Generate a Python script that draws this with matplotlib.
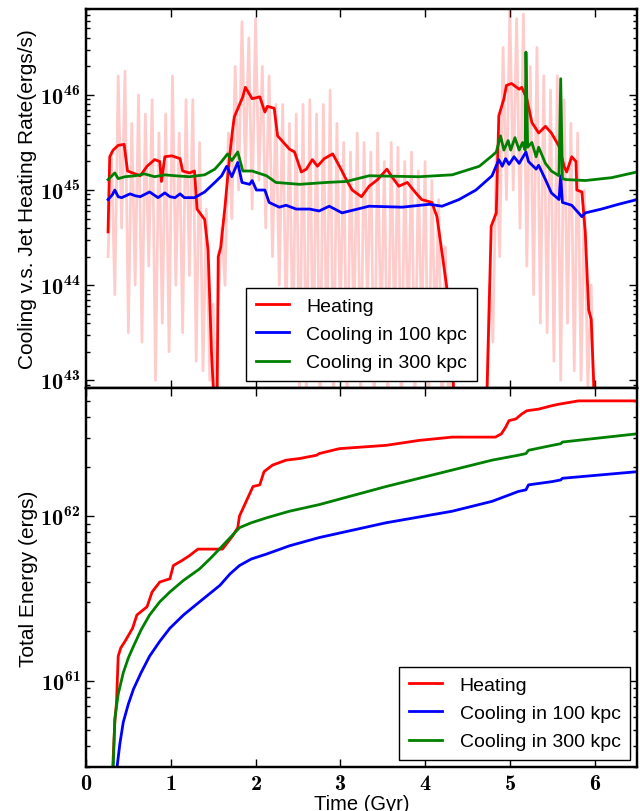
import matplotlib
matplotlib.use('Agg')
import matplotlib.pyplot as plt
import numpy as np
from matplotlib.ticker import FuncFormatter, LogLocator

plt.rcParams['font.family'] = ['Liberation Sans', 'DejaVu Sans']
# bold Computer Modern for the tick numbers
plt.rcParams['mathtext.fontset'] = 'custom'
plt.rcParams['mathtext.bf'] = 'cmb10'
plt.rcParams['mathtext.rm'] = 'cmr10'

# ---- top panel: rates (log10 erg/s) ----
heat_t = [0.26, 0.28, 0.32, 0.38, 0.45, 0.49, 0.58, 0.64, 0.72, 0.81, 0.87,
          0.89, 0.93, 1.01, 1.11, 1.14, 1.22, 1.28, 1.31, 1.40, 1.44, 1.46,
          1.48, 1.52, 1.54, 1.56, 1.59, 1.64, 1.69, 1.73, 1.75, 1.85, 1.88,
          1.96, 2.05, 2.11, 2.14, 2.22, 2.26, 2.40, 2.46, 2.54, 2.60, 2.67,
          2.73, 2.81, 2.91, 2.99, 3.07, 3.14, 3.25, 3.34, 3.44, 3.55, 3.60,
          3.69, 3.79, 3.89, 3.96, 4.08, 4.14, 4.20, 4.26, 4.31, 4.34, 4.40,
          4.66, 4.72, 4.78, 4.84, 4.87, 4.93, 4.96, 5.02, 5.11, 5.14, 5.20,
          5.26, 5.34, 5.42, 5.49, 5.58, 5.64, 5.67, 5.73, 5.78, 5.79, 5.85,
          5.89, 5.93, 5.96, 6.01, 6.05]
heat_log = [44.56, 45.35, 45.42, 45.47, 45.48, 45.20, 45.17, 45.15, 45.25,
            45.32, 45.30, 45.09, 45.35, 45.36, 45.33, 45.20, 45.18, 45.20,
            44.80, 44.69, 44.37, 43.85, 43.30, 42.60, 42.00, 44.30, 44.40,
            44.83, 45.32, 45.64, 45.77, 45.98, 46.08, 45.96, 45.98, 45.82,
            45.88, 45.86, 45.57, 45.43, 45.40, 45.19, 45.22, 45.32, 45.25,
            45.33, 45.38, 45.25, 45.11, 45.00, 44.93, 45.04, 45.11, 45.22,
            45.15, 45.04, 45.08, 44.97, 44.90, 44.87, 44.72, 44.34, 43.95,
            43.50, 42.80, 41.50, 41.50, 42.50, 44.62, 44.76, 45.78, 45.96,
            46.10, 46.12, 46.06, 46.08, 45.96, 45.71, 45.60, 45.67, 45.60,
            45.46, 45.25, 45.19, 45.35, 45.30, 45.00, 44.98, 44.55, 43.74,
            43.64, 42.50, 41.50]

cool100_t = [0.26, 0.31, 0.34, 0.38, 0.42, 0.52, 0.58, 0.64, 0.75, 0.85, 0.93,
             0.99, 1.05, 1.11, 1.16, 1.28, 1.40, 1.52, 1.60, 1.66, 1.72, 1.79,
             1.84, 1.93, 1.96, 2.01, 2.11, 2.16, 2.28, 2.36, 2.48, 2.64, 2.75,
             2.87, 3.02, 3.34, 3.73, 4.05, 4.20, 4.40, 4.60, 4.79, 4.87, 4.91,
             4.95, 4.99, 5.05, 5.11, 5.19, 5.22, 5.31, 5.34, 5.42, 5.49, 5.58,
             5.60, 5.62, 5.73, 5.85, 5.89, 6.08, 6.28, 6.50]
cool100_log = [44.90, 44.95, 45.00, 44.93, 44.92, 44.96, 44.94, 44.93, 44.98,
               44.92, 44.97, 44.93, 44.92, 44.96, 44.92, 44.92, 44.98, 45.08,
               45.15, 45.25, 45.14, 45.29, 45.08, 45.06, 45.10, 45.00, 45.00,
               44.87, 44.82, 44.84, 44.80, 44.80, 44.78, 44.83, 44.76, 44.83,
               44.82, 44.85, 44.83, 44.90, 45.00, 45.15, 45.32, 45.25, 45.33,
               45.27, 45.35, 45.28, 45.40, 45.30, 45.22, 45.26, 45.11, 44.97,
               44.90, 45.15, 44.87, 44.84, 44.72, 44.76, 44.80, 44.85, 44.90]

cool300_t = [0.26, 0.34, 0.38, 0.46, 0.58, 0.69, 0.81, 0.93, 1.05, 1.22, 1.40,
             1.52, 1.60, 1.67, 1.72, 1.79, 1.85, 1.96, 2.13, 2.24, 2.52, 2.84,
             3.07, 3.34, 3.93, 4.32, 4.64, 4.79, 4.84, 4.89, 4.93, 4.98, 5.01,
             5.06, 5.11, 5.15, 5.18, 5.19, 5.21, 5.26, 5.31, 5.34, 5.42, 5.49,
             5.58, 5.60, 5.62, 5.66, 5.89, 6.20, 6.50]
cool300_log = [45.11, 45.18, 45.12, 45.14, 45.15, 45.17, 45.14, 45.16, 45.15,
               45.14, 45.16, 45.22, 45.30, 45.38, 45.31, 45.40, 45.20, 45.20,
               45.15, 45.08, 45.06, 45.08, 45.09, 45.15, 45.14, 45.16, 45.25,
               45.36, 45.40, 45.57, 45.42, 45.52, 45.42, 45.55, 45.42, 45.50,
               45.42, 46.45, 45.45, 45.50, 45.35, 45.45, 45.28, 45.20, 45.15,
               46.17, 45.12, 45.11, 45.10, 45.13, 45.19]

# raw (unsmoothed) jet heating, one sample every 0.04 Gyr per outburst
raw_start = [0.26, 1.56, 4.72]
raw_log = [
    [44.3, 45.4, 43.9, 46.2, 44.6, 46.25, 43.5, 45.7, 44.0, 46.0, 43.4, 45.8,
     44.2, 45.95, 43.0, 45.6, 43.6, 45.8, 43.3, 46.2, 44.0, 45.6, 43.5, 45.95,
     44.1, 45.95, 43.2, 45.5, 43.1, 44.8, 43.0, 43.8, 42.5],
    [43.8, 44.6, 44.0, 45.6, 44.7, 46.3, 45.0, 46.77, 45.2, 46.6, 44.8, 46.8,
     45.1, 46.3, 44.6, 46.2, 44.3, 45.9, 44.0, 45.9, 43.6, 45.7, 43.3, 45.8,
     42.8, 45.9, 42.7, 45.95, 43.0, 45.8, 42.6, 45.9, 43.2, 46.05, 42.7, 45.7,
     43.6, 45.5, 42.6, 45.4, 43.5, 45.6, 42.8, 45.5, 43.8, 45.4, 42.6, 45.6,
     43.4, 45.3, 42.7, 45.5, 43.5, 45.45, 42.6, 45.3, 43.4, 45.4, 42.7, 45.2,
     43.5, 45.3, 42.6, 45.1, 43.4, 44.9, 42.6, 44.4, 42.5, 43.6, 42.0],
    [42.5, 44.0, 43.4, 45.4, 44.3, 46.5, 44.9, 46.9, 45.0, 46.8, 44.6, 46.85,
     44.2, 46.3, 43.9, 46.5, 43.6, 46.2, 43.5, 46.05, 43.2, 46.2, 43.0, 45.95,
     43.6, 45.7, 43.1, 45.6, 43.0, 45.0, 42.9, 44.0, 42.3, 41.5],
]

# ---- bottom panel: cumulative energy (log10 erg) ----
eheat_t = [0.30, 0.34, 0.36, 0.38, 0.41, 0.46, 0.55, 0.60, 0.72, 0.78, 0.87,
           0.99, 1.03, 1.13, 1.22, 1.32, 1.61, 1.73, 1.79, 1.81, 1.89, 1.97,
           2.05, 2.10, 2.20, 2.36, 2.52, 2.72, 2.75, 2.99, 3.54, 3.93, 4.32,
           4.83, 4.90, 4.95, 4.99, 5.07, 5.14, 5.20, 5.34, 5.49, 5.58, 5.81,
           6.50]
eheat_log = [60.30, 60.75, 60.87, 61.15, 61.20, 61.24, 61.32, 61.40, 61.45,
             61.54, 61.60, 61.62, 61.70, 61.73, 61.76, 61.80, 61.80, 61.88,
             61.93, 62.00, 62.09, 62.18, 62.19, 62.27, 62.31, 62.34, 62.35,
             62.37, 62.38, 62.41, 62.43, 62.46, 62.48, 62.48, 62.50, 62.54,
             62.58, 62.59, 62.62, 62.64, 62.65, 62.67, 62.68, 62.70, 62.70]

ecool100_t = [0.34, 0.36, 0.40, 0.44, 0.50, 0.56, 0.65, 0.75, 0.87, 0.99,
              1.15, 1.34, 1.58, 1.70, 1.81, 1.95, 2.13, 2.40, 2.75, 3.54,
              4.32, 4.79, 5.10, 5.19, 5.22, 5.50, 5.60, 5.62, 6.50]
ecool100_log = [60.20, 60.45, 60.62, 60.75, 60.86, 60.95, 61.05, 61.15, 61.24,
                61.32, 61.40, 61.48, 61.58, 61.65, 61.70, 61.74, 61.77, 61.82,
                61.87, 61.96, 62.03, 62.09, 62.15, 62.16, 62.19, 62.21, 62.22,
                62.23, 62.27]

ecool300_t = [0.31, 0.34, 0.38, 0.44, 0.50, 0.56, 0.65, 0.75, 0.87, 0.99,
              1.15, 1.34, 1.48, 1.61, 1.81, 1.95, 2.13, 2.40, 2.75, 3.54,
              4.32, 4.79, 5.10, 5.19, 5.22, 5.50, 5.60, 5.62, 6.50]
ecool300_log = [60.30, 60.77, 60.92, 61.05, 61.14, 61.21, 61.31, 61.40, 61.48,
                61.54, 61.61, 61.68, 61.75, 61.82, 61.93, 61.96, 61.99, 62.03,
                62.07, 62.18, 62.28, 62.34, 62.37, 62.38, 62.40, 62.43, 62.44,
                62.45, 62.50]

labels = ['Heating', 'Cooling in 100 kpc', 'Cooling in 300 kpc']


def pow10(vals):
    return 10.0 ** np.asarray(vals)


def style_axis(ax):
    for sp in ax.spines.values():
        sp.set_linewidth(1.75)
    ax.set_yscale('log')
    ax.set_xlim(0, 6.5)
    ax.xaxis.set_major_locator(plt.MultipleLocator(1))
    ax.yaxis.set_major_locator(LogLocator(base=10))
    ax.yaxis.set_minor_locator(LogLocator(base=10, subs=np.arange(2, 10)))
    ax.tick_params(which='both', direction='in', top=True, right=True,
                   width=1)
    ax.tick_params(which='major', length=6, labelsize=16, pad=4)
    ax.tick_params(which='minor', length=3)
    ax.yaxis.set_major_formatter(FuncFormatter(
        lambda v, p: r'$\mathbf{10^{%d}}$' % round(np.log10(v))))
    ax.xaxis.set_major_formatter(FuncFormatter(
        lambda v, p: r'$\mathbf{%d}$' % round(v)))


def add_legend(ax, loc):
    leg = ax.legend(loc=loc, fontsize=14, fancybox=False, framealpha=1,
                    edgecolor='black', handlelength=1.7, handletextpad=0.9,
                    labelspacing=0.55, borderpad=0.5, borderaxespad=0.35)
    leg.get_frame().set_linewidth(1.0)


def main():
    fig = plt.figure(figsize=(6.4, 8.12), dpi=100)
    left, width = 86 / 640, (637 - 86) / 640
    ax1 = fig.add_axes([left, 1 - 389 / 812, width, (389 - 10) / 812])
    ax2 = fig.add_axes([left, 1 - 768 / 812, width, (768 - 389) / 812])

    # raw heating, pale
    for t0, seg in zip(raw_start, raw_log):
        tt = t0 + 0.04 * np.arange(len(seg))
        ax1.plot(tt, pow10(seg), color='red', alpha=0.2, lw=2)

    ax1.plot(heat_t, pow10(heat_log), color='red', lw=2, label=labels[0])
    ax1.plot(cool100_t, pow10(cool100_log), color='blue', lw=2,
             label=labels[1])
    ax1.plot(cool300_t, pow10(cool300_log), color=(0, 0.5, 0), lw=2,
             label=labels[2])
    style_axis(ax1)
    ax1.set_ylim(8.3e42, 8e46)
    ax1.tick_params(labelbottom=False)
    ax1.set_ylabel('Cooling v.s. Jet Heating Rate(ergs/s)', fontsize=15,
                   labelpad=2)
    add_legend(ax1, 'lower center')

    ax2.plot(eheat_t, pow10(eheat_log), color='red', lw=2, label=labels[0])
    ax2.plot(ecool100_t, pow10(ecool100_log), color='blue', lw=2,
             label=labels[1])
    ax2.plot(ecool300_t, pow10(ecool300_log), color=(0, 0.5, 0), lw=2,
             label=labels[2])
    style_axis(ax2)
    ax2.set_ylim(3e60, 6e62)
    ax2.set_ylabel('Total Energy (ergs)', fontsize=15, labelpad=2)
    ax2.set_xlabel('Time (Gyr)', fontsize=14.5, labelpad=0)
    add_legend(ax2, 'lower right')

    fig.savefig('out.png', dpi=100)


if __name__ == '__main__':
    main()
